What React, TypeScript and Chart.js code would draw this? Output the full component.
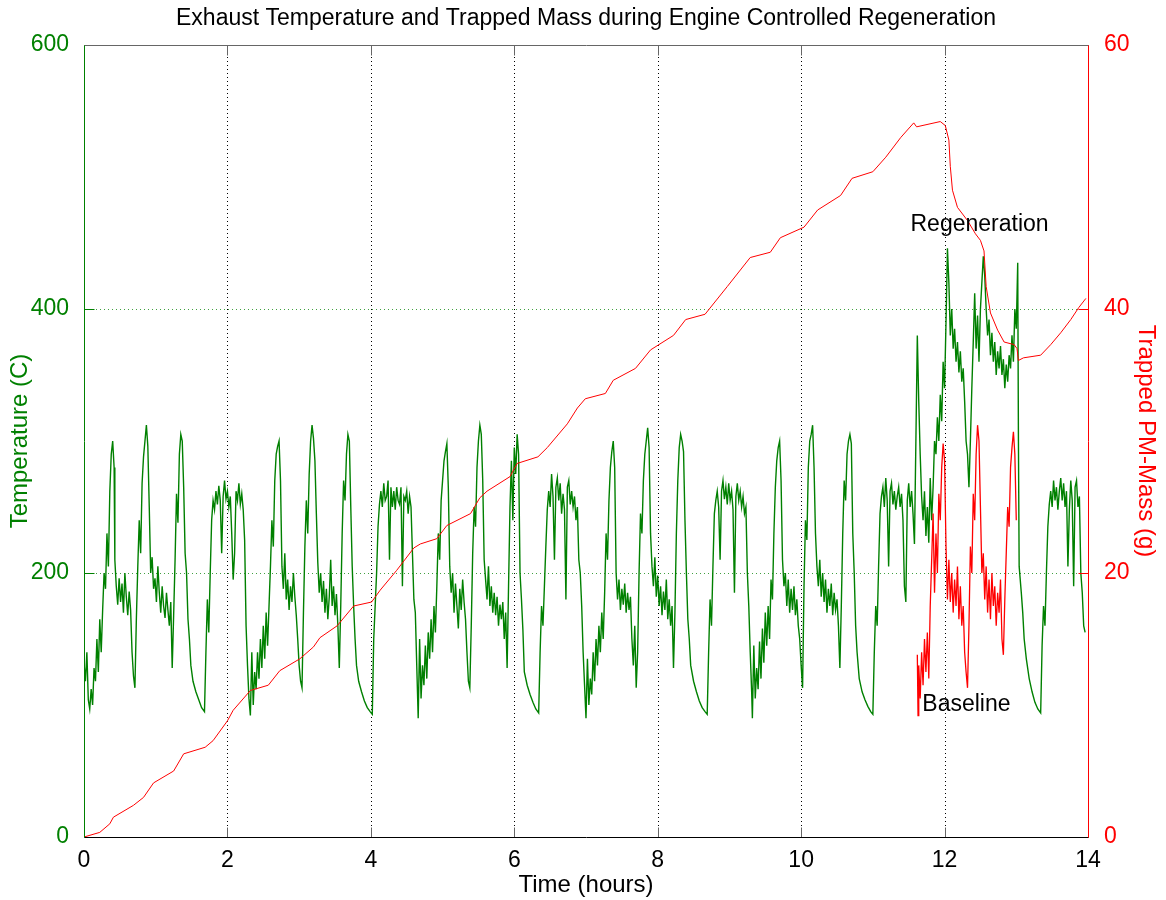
import React, { useEffect, useRef } from "react";
import { Chart, registerables } from "chart.js";

Chart.register(...registerables);

const chartTitle = "Exhaust Temperature and Trapped Mass during Engine Controlled Regeneration";
const xTitle = "Time (hours)";
const yLeftTitle = "Temperature (C)";
const yRightTitle = "Trapped PM-Mass (g)";
const xTicks = [0, 2, 4, 6, 8, 10, 12, 14];
const tempTicks = [0, 200, 400, 600];
const massTicks = [0, 20, 40, 60];

// Exhaust temperature (C) vs time (h), green
const tempCycle1: [number, number][] = [
  [0.00,132],[0.02,118],[0.04,140],[0.06,104],[0.08,97],[0.10,112],[0.12,100],[0.14,128],[0.16,118],[0.18,150],[0.20,125],[0.22,165],[0.24,140],[0.26,172],[0.28,200],[0.30,188],[0.32,230],[0.34,205],[0.36,262],[0.38,290],[0.40,300],[0.42,280],[0.43,210],[0.45,190],[0.47,176],[0.49,196],[0.51,178],[0.53,192],[0.55,170],[0.57,200],[0.59,182],[0.61,168],[0.63,186],[0.65,172],[0.67,140],[0.69,122],[0.71,113],[0.73,165],[0.75,205],[0.77,240],[0.79,215],[0.81,268],[0.83,288],[0.85,300],[0.87,312],[0.89,296],[0.91,250],[0.93,200],[0.95,212],[0.97,188],[0.99,196],[1.01,178],[1.03,205],[1.05,185],[1.07,170],[1.09,190],[1.11,175],[1.13,166],[1.15,185],[1.17,172],[1.19,160],[1.21,178],[1.23,128],[1.25,168],[1.27,210],[1.29,260],[1.31,238],[1.33,290],[1.35,305],[1.37,300],[1.39,265],[1.41,215],[1.43,200],[1.45,165],[1.47,150],[1.49,130],[1.52,118],[1.56,110],[1.60,104],[1.64,98],[1.68,95],[1.70,140],[1.72,180],[1.74,155],[1.76,200],[1.78,240],[1.80,255],[1.82,248],[1.84,262],[1.86,252],[1.88,266],[1.90,255],[1.92,215],[1.94,258],[1.96,270],[1.98,256],[2.00,262],[2.02,250],[2.04,258],[2.06,230],[2.08,195],[2.10,215],[2.12,262],[2.14,255],[2.16,268],[2.18,252],[2.20,260],[2.22,248],[2.24,225],[2.26,160],[2.28,130],[2.30,105],[2.32,92],
];
const tempCycle2: [number, number][] = [
  [2.34,140],[2.36,100],[2.38,125],[2.40,112],[2.42,140],[2.44,120],[2.46,150],[2.48,128],[2.50,160],[2.52,135],[2.54,170],[2.56,145],[2.58,175],[2.60,205],[2.62,240],[2.64,220],[2.66,270],[2.68,290],[2.70,296],[2.72,300],[2.74,270],[2.76,205],[2.78,188],[2.80,215],[2.82,180],[2.84,195],[2.86,172],[2.88,190],[2.90,178],[2.92,200],[2.94,182],[2.96,168],[2.98,150],[3.00,130],[3.02,118],[3.04,113],[3.06,170],[3.08,220],[3.10,255],[3.12,230],[3.14,275],[3.16,300],[3.18,312],[3.20,302],[3.22,285],[3.24,245],[3.26,208],[3.28,185],[3.30,200],[3.32,178],[3.34,194],[3.36,170],[3.38,188],[3.40,165],[3.42,182],[3.44,210],[3.46,175],[3.48,190],[3.50,168],[3.52,184],[3.54,160],[3.56,128],[3.58,175],[3.60,230],[3.62,270],[3.64,255],[3.66,290],[3.68,305],[3.70,300],[3.72,250],[3.74,205],[3.76,175],[3.78,150],[3.80,130],[3.83,118],[3.87,110],[3.91,103],[3.95,98],[3.99,95],[4.02,93],[4.04,150],[4.06,175],[4.08,200],[4.10,235],[4.12,252],[4.14,262],[4.16,250],[4.18,268],[4.20,255],[4.22,258],[4.24,270],[4.26,210],[4.28,265],[4.30,250],[4.32,262],[4.34,248],[4.36,265],[4.38,255],[4.40,252],[4.42,265],[4.44,190],[4.46,258],[4.48,255],[4.50,262],[4.52,245],[4.54,258],[4.56,250],[4.58,215],[4.60,180],[4.62,170],[4.64,130],[4.66,90],
];
const tempCycle3: [number, number][] = [
  [4.68,150],[4.70,105],[4.72,130],[4.74,115],[4.76,145],[4.78,120],[4.80,155],[4.82,135],[4.84,165],[4.86,140],[4.88,175],[4.90,155],[4.92,190],[4.94,230],[4.96,210],[4.98,255],[5.00,270],[5.02,285],[5.04,292],[5.06,298],[5.08,265],[5.10,205],[5.12,185],[5.14,200],[5.16,170],[5.18,192],[5.20,175],[5.22,158],[5.24,188],[5.26,172],[5.28,195],[5.30,178],[5.32,165],[5.34,140],[5.36,118],[5.38,113],[5.40,160],[5.42,215],[5.44,250],[5.46,235],[5.48,280],[5.50,300],[5.52,312],[5.54,305],[5.56,270],[5.58,210],[5.60,195],[5.62,180],[5.64,205],[5.66,175],[5.68,190],[5.70,170],[5.72,185],[5.74,168],[5.76,182],[5.78,160],[5.80,176],[5.82,165],[5.84,178],[5.86,150],[5.88,170],[5.90,128],[5.92,190],[5.94,250],[5.96,285],[5.98,240],[6.00,295],[6.02,275],[6.04,305],[6.06,290],[6.08,200],[6.10,180],[6.12,157],[6.14,125],[6.18,115],[6.22,108],[6.26,102],[6.30,97],[6.34,94],[6.36,140],[6.38,175],[6.40,160],[6.42,190],[6.44,220],[6.46,248],[6.48,262],[6.50,250],[6.52,275],[6.54,258],[6.56,210],[6.58,265],[6.60,272],[6.62,255],[6.64,268],[6.66,245],[6.68,260],[6.70,248],[6.72,180],[6.74,265],[6.76,270],[6.78,252],[6.80,262],[6.82,250],[6.84,258],[6.86,240],[6.88,250],[6.90,210],[6.92,200],[6.94,175],[6.96,140],[6.98,115],[7.00,90],
];
const tempCycle4: [number, number][] = [
  [7.02,135],[7.04,100],[7.06,120],[7.08,108],[7.10,140],[7.12,118],[7.14,150],[7.16,130],[7.18,160],[7.20,140],[7.22,170],[7.24,150],[7.26,185],[7.28,230],[7.30,210],[7.32,255],[7.34,280],[7.36,292],[7.38,300],[7.40,280],[7.42,200],[7.44,180],[7.46,195],[7.48,172],[7.50,188],[7.52,176],[7.54,192],[7.56,170],[7.58,185],[7.60,172],[7.62,182],[7.64,150],[7.66,130],[7.68,160],[7.70,113],[7.72,140],[7.74,200],[7.76,245],[7.78,230],[7.80,270],[7.82,290],[7.84,300],[7.86,310],[7.88,295],[7.90,230],[7.92,205],[7.94,190],[7.96,212],[7.98,182],[8.00,198],[8.02,175],[8.04,190],[8.06,168],[8.08,186],[8.10,172],[8.12,195],[8.14,165],[8.16,180],[8.18,160],[8.20,175],[8.22,128],[8.24,170],[8.26,230],[8.28,270],[8.30,295],[8.32,305],[8.34,300],[8.36,292],[8.38,240],[8.40,200],[8.42,165],[8.44,150],[8.46,130],[8.50,118],[8.54,110],[8.58,103],[8.62,98],[8.66,95],[8.69,93],[8.71,140],[8.73,180],[8.75,160],[8.77,205],[8.79,245],[8.81,255],[8.83,262],[8.85,250],[8.87,210],[8.89,262],[8.91,270],[8.93,256],[8.95,265],[8.97,252],[8.99,268],[9.01,255],[9.03,262],[9.05,248],[9.07,185],[9.09,258],[9.11,268],[9.13,255],[9.15,262],[9.17,250],[9.19,258],[9.21,245],[9.23,250],[9.25,200],[9.27,175],[9.29,140],[9.31,110],[9.32,90],
];
const tempCycle5: [number, number][] = [
  [9.34,145],[9.36,105],[9.38,128],[9.40,112],[9.42,148],[9.44,120],[9.46,158],[9.48,132],[9.50,170],[9.52,145],[9.54,175],[9.56,150],[9.58,195],[9.60,180],[9.62,230],[9.64,265],[9.66,285],[9.68,295],[9.70,300],[9.72,270],[9.74,210],[9.76,190],[9.78,200],[9.80,175],[9.82,195],[9.84,170],[9.86,188],[9.88,172],[9.90,190],[9.92,168],[9.94,180],[9.96,160],[9.98,150],[10.00,130],[10.02,113],[10.04,190],[10.06,240],[10.08,225],[10.10,280],[10.12,300],[10.14,305],[10.16,312],[10.18,280],[10.20,230],[10.22,205],[10.24,190],[10.26,210],[10.28,182],[10.30,200],[10.32,178],[10.34,195],[10.36,170],[10.38,188],[10.40,175],[10.42,192],[10.44,168],[10.46,185],[10.48,172],[10.50,180],[10.52,160],[10.54,128],[10.56,175],[10.58,230],[10.60,270],[10.62,255],[10.64,290],[10.66,300],[10.68,305],[10.70,298],[10.72,230],[10.74,200],[10.76,160],[10.78,140],[10.81,120],[10.85,110],[10.89,104],[10.93,99],[10.97,95],[11.00,93],[11.02,140],[11.04,175],[11.06,160],[11.08,205],[11.10,245],[11.12,258],[11.14,265],[11.16,250],[11.18,272],[11.20,255],[11.22,205],[11.24,262],[11.26,268],[11.28,252],[11.30,262],[11.32,248],[11.34,258],[11.36,265],[11.38,250],[11.40,260],[11.42,240],[11.44,190],[11.46,178],[11.48,255],[11.50,268],[11.52,250],[11.54,262],[11.56,245],[11.58,222],
];
const tempRegen: [number, number][] = [
  [11.60,300],[11.62,380],[11.64,330],[11.66,290],[11.68,258],[11.70,240],[11.72,262],[11.74,228],[11.76,250],[11.78,223],[11.80,272],[11.82,240],[11.84,265],[11.86,300],[11.88,290],[11.90,318],[11.92,300],[11.94,335],[11.96,315],[11.98,360],[12.00,340],[12.02,390],[12.04,446],[12.06,420],[12.08,380],[12.10,400],[12.12,370],[12.14,385],[12.16,360],[12.18,375],[12.20,352],[12.22,368],[12.24,345],[12.26,355],[12.28,330],[12.30,300],[12.32,290],[12.34,265],[12.36,300],[12.38,340],[12.40,375],[12.42,412],[12.44,370],[12.46,395],[12.48,360],[12.50,400],[12.52,420],[12.54,440],[12.56,425],[12.58,400],[12.60,380],[12.62,392],[12.64,365],[12.66,382],[12.68,360],[12.70,375],[12.72,350],[12.74,368],[12.76,355],[12.78,372],[12.80,350],[12.82,362],[12.84,340],[12.86,358],[12.88,345],[12.90,365],[12.92,355],[12.94,380],[12.96,360],[12.98,400],[13.00,385],[13.02,435],[13.03,300],[13.04,205],
];
const tempTail: [number, number][] = [
  [13.07,185],[13.09,170],[13.11,150],[13.14,135],[13.18,120],[13.22,110],[13.26,102],[13.30,97],[13.34,94],[13.36,145],[13.38,175],[13.40,160],[13.42,200],[13.44,235],[13.46,252],[13.48,262],[13.50,250],[13.52,270],[13.54,255],[13.56,265],[13.58,248],[13.60,262],[13.62,272],[13.64,255],[13.66,268],[13.68,250],[13.70,262],[13.72,205],[13.74,248],[13.76,270],[13.78,255],[13.80,190],[13.82,265],[13.84,270],[13.86,250],[13.88,258],[13.90,200],[13.92,185],[13.94,160],[13.96,155],
];

// Baseline exhaust temperature (C), red
const baselineTemp: [number, number][] = [
  [11.62,138],[11.63,92],[11.64,130],[11.66,105],[11.68,140],[11.70,115],[11.72,150],[11.74,125],[11.76,155],[11.78,120],[11.80,175],[11.82,210],[11.84,245],[11.86,185],[11.88,230],[11.90,200],[11.92,260],[11.94,240],[11.96,280],[11.98,298],[12.00,285],[12.02,220],[12.04,180],[12.06,210],[12.08,178],[12.10,200],[12.12,170],[12.14,195],[12.16,175],[12.18,205],[12.20,165],[12.22,190],[12.24,160],[12.26,175],[12.28,140],[12.30,125],[12.32,113],[12.34,160],[12.36,220],[12.38,200],[12.40,260],[12.42,240],[12.44,290],[12.46,312],[12.48,300],[12.50,250],[12.52,200],[12.54,215],[12.56,180],[12.58,205],[12.60,170],[12.62,195],[12.64,165],[12.66,200],[12.68,175],[12.70,190],[12.72,160],[12.74,185],[12.76,170],[12.78,195],[12.80,150],[12.82,138],[12.84,180],[12.86,215],[12.88,250],[12.90,235],[12.92,280],[12.94,295],[12.96,307],[12.98,290],[13.00,240],
];

// Trapped PM mass (g), red, right axis
const trappedMass: [number, number][] = [
  [0,0],[0.22,0.35],[0.36,1.0],[0.41,1.5],[0.69,2.4],[0.83,3.0],[0.97,4.1],[1.25,5.0],[1.39,6.3],[1.69,6.8],[1.8,7.3],[2.0,8.8],[2.08,9.6],[2.32,11.1],[2.57,11.5],[2.73,12.6],[3.01,13.5],[3.2,14.4],[3.29,15.1],[3.53,16.0],[3.76,17.5],[4.01,17.8],[4.13,18.7],[4.36,20.2],[4.6,21.9],[4.69,22.2],[4.92,22.6],[5.06,23.6],[5.39,24.5],[5.52,25.7],[5.62,26.2],[5.94,27.3],[6.04,28.3],[6.33,28.8],[6.46,29.5],[6.74,31.3],[6.88,32.5],[6.99,33.2],[7.27,33.6],[7.38,34.6],[7.69,35.5],[7.9,36.9],[8.22,38.0],[8.39,39.2],[8.66,39.6],[8.97,41.7],[9.29,43.9],[9.57,44.3],[9.71,45.4],[10.04,46.2],[10.23,47.5],[10.55,48.6],[10.71,49.9],[11.0,50.4],[11.18,51.5],[11.39,53.0],[11.57,54.1],[11.61,53.8],[11.94,54.2],[12.01,53.9],[12.06,52.8],[12.08,50.8],[12.11,49.0],[12.18,47.7],[12.32,46.7],[12.43,45.7],[12.5,45.2],[12.55,44.4],[12.58,41.7],[12.64,39.7],[12.74,38.4],[12.83,37.5],[12.97,37.3],[13.01,37.0],[13.03,36.1],[13.1,36.3],[13.34,36.5],[13.48,37.3],[13.62,38.2],[13.76,39.2],[13.87,40.1],[13.97,40.8],
];

const annotations = [
  { text: "Regeneration", t: 11.525, v: 464 },
  { text: "Baseline", t: 11.69, v: 100 },
];

const GREEN = "#008000";
const RED = "#ff0000";
const FONT = "'Liberation Sans', Arial, sans-serif";

const toPts = (arr: [number, number][]) => arr.map(([x, y]) => ({ x, y }));

const framePlugin = {
  id: "frame",
  beforeDatasetsDraw(chart: any) {
    const { ctx, chartArea, scales } = chart;
    const { left, right, top, bottom } = chartArea;
    const xs = scales.x, yl = scales.y;
    ctx.save();
    ctx.lineWidth = 1;
    ctx.setLineDash([1, 3]);
    ctx.strokeStyle = "#000";
    for (const t of xTicks) {
      if (t <= xs.min || t >= xs.max) continue;
      const x = Math.round(xs.getPixelForValue(t)) + 0.5;
      ctx.beginPath(); ctx.moveTo(x, top); ctx.lineTo(x, bottom); ctx.stroke();
    }
    ctx.strokeStyle = "rgba(0,128,0,0.75)";
    for (const v of tempTicks) {
      if (v <= yl.min || v >= yl.max) continue;
      const y = Math.round(yl.getPixelForValue(v)) + 0.5;
      ctx.beginPath(); ctx.moveTo(left, y); ctx.lineTo(right, y); ctx.stroke();
    }
    ctx.restore();
  },
  afterDatasetsDraw(chart: any) {
    const { ctx, chartArea, scales } = chart;
    const { left, right, top, bottom } = chartArea;
    const xs = scales.x, yl = scales.y, yr = scales.y2;
    const L = Math.round(left) + 0.5, R = Math.round(right) + 0.5;
    const T = Math.round(top) + 0.5, B = Math.round(bottom) + 0.5;
    const tl = 10;
    ctx.save();
    ctx.lineWidth = 1;
    ctx.setLineDash([]);
    ctx.strokeStyle = "#666";
    for (const t of xTicks) {
      const x = Math.round(xs.getPixelForValue(t)) + 0.5;
      ctx.beginPath(); ctx.moveTo(x, B); ctx.lineTo(x, B - tl); ctx.stroke();
      ctx.beginPath(); ctx.moveTo(x, T); ctx.lineTo(x, T + tl); ctx.stroke();
    }
    ctx.strokeStyle = GREEN;
    for (const v of tempTicks) {
      const y = Math.round(yl.getPixelForValue(v)) + 0.5;
      ctx.beginPath(); ctx.moveTo(L, y); ctx.lineTo(L + tl, y); ctx.stroke();
    }
    ctx.strokeStyle = RED;
    for (const v of massTicks) {
      const y = Math.round(yr.getPixelForValue(v)) + 0.5;
      ctx.beginPath(); ctx.moveTo(R, y); ctx.lineTo(R - tl, y); ctx.stroke();
    }
    ctx.strokeStyle = "#666";
    ctx.beginPath(); ctx.moveTo(L, T); ctx.lineTo(R, T); ctx.stroke();
    ctx.strokeStyle = "#000";
    ctx.beginPath(); ctx.moveTo(L, B); ctx.lineTo(R, B); ctx.stroke();
    ctx.strokeStyle = GREEN;
    ctx.beginPath(); ctx.moveTo(L, T); ctx.lineTo(L, B); ctx.stroke();
    ctx.strokeStyle = RED;
    ctx.beginPath(); ctx.moveTo(R, T); ctx.lineTo(R, B); ctx.stroke();

    ctx.fillStyle = "#000";
    ctx.font = `23px ${FONT}`;
    ctx.textBaseline = "middle";
    ctx.textAlign = "left";
    for (const a of annotations) {
      ctx.fillText(a.text, xs.getPixelForValue(a.t), yl.getPixelForValue(a.v));
    }
    ctx.textAlign = "center";
    ctx.fillText(chartTitle, (left + right) / 2, 19);
    ctx.restore();
  },
};

export default function App() {
  const ref = useRef<HTMLCanvasElement | null>(null);
  useEffect(() => {
    document.body.style.margin = "0";
    const canvas = ref.current;
    if (!canvas) return;
    const tickFont = { family: FONT, size: 23 };
    const titleFont = { family: FONT, size: 24 };
    const chart = new Chart(canvas, {
      type: "line",
      data: {
        datasets: [
          {
            label: "Trapped PM-Mass",
            data: toPts(trappedMass),
            yAxisID: "y2",
            borderColor: RED,
            borderWidth: 1,
            pointRadius: 0,
            tension: 0,
            order: 1,
          },
          {
            label: "Baseline",
            data: toPts(baselineTemp),
            yAxisID: "y",
            borderColor: RED,
            borderWidth: 1.3,
            pointRadius: 0,
            tension: 0,
            order: 2,
          },
          {
            label: "Temperature",
            data: toPts([...tempCycle1, ...tempCycle2, ...tempCycle3, ...tempCycle4, ...tempCycle5, ...tempRegen, ...tempTail]),
            yAxisID: "y",
            borderColor: GREEN,
            borderWidth: 1.4,
            pointRadius: 0,
            tension: 0,
            order: 3,
          },
        ],
      },
      options: {
        responsive: false,
        animation: false,
        layout: { padding: { top: 45, left: 0, right: 0, bottom: 0 } },
        plugins: { legend: { display: false }, tooltip: { enabled: false }, title: { display: false } },
        scales: {
          x: {
            type: "linear",
            min: 0,
            max: 14,
            afterBuildTicks: (s: any) => { s.ticks = xTicks.map((v) => ({ value: v })); },
            afterFit: (s: any) => { s.height = 63; },
            grid: { display: false },
            border: { display: false },
            ticks: { color: "#000", font: tickFont, padding: 2, maxRotation: 0 },
            title: { display: true, text: xTitle, color: "#000", font: titleFont, padding: { top: 0, bottom: 0 } },
          },
          y: {
            type: "linear",
            position: "left",
            min: 0,
            max: 600,
            afterBuildTicks: (s: any) => { s.ticks = tempTicks.map((v) => ({ value: v })); },
            afterFit: (s: any) => { s.width = 84; },
            grid: { display: false },
            border: { display: false },
            ticks: { color: GREEN, font: tickFont, padding: 7 },
            title: { display: true, text: yLeftTitle, color: GREEN, font: titleFont, padding: { top: 6, bottom: 0 } },
          },
          y2: {
            type: "linear",
            position: "right",
            min: 0,
            max: 60,
            afterBuildTicks: (s: any) => { s.ticks = massTicks.map((v) => ({ value: v })); },
            afterFit: (s: any) => { s.width = 78; },
            grid: { display: false },
            border: { display: false },
            ticks: { color: RED, font: tickFont, padding: 8 },
            title: { display: true, text: yRightTitle, color: RED, font: titleFont, padding: { top: 6, bottom: 0 } },
          },
        },
      },
      plugins: [framePlugin],
    } as any);
    return () => chart.destroy();
  }, []);
  return (
    <div style={{ width: 1166, height: 900, background: "#fff" }}>
      <canvas ref={ref} width={1166} height={900} />
    </div>
  );
}
